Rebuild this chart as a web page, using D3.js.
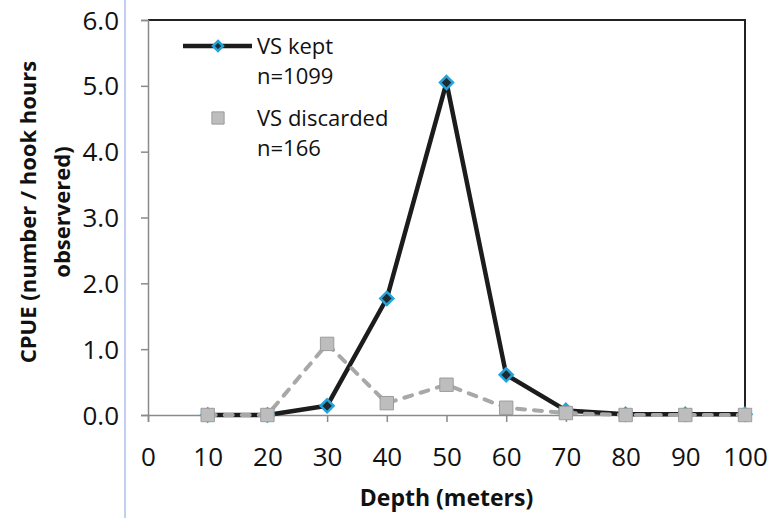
<!DOCTYPE html>
<html>
<head>
<meta charset="utf-8">
<script src="https://cdn.jsdelivr.net/npm/d3@7"></script>
<style>
  html, body { margin: 0; padding: 0; background: #fff; }
  svg { display: block; }
  text { font-family: "Open Sans", "DejaVu Sans", sans-serif; fill: #111; }
</style>
</head>
<body>
<svg id="chart" width="770" height="518"></svg>
<script>
// Catch per unit effort by depth
const depths = [10, 20, 30, 40, 50, 60, 70, 80, 90, 100];
const keptCpue = [0.0, 0.0, 0.14, 1.77, 5.05, 0.61, 0.07, 0.01, 0.01, 0.01];
const discardedCpue = [0.0, 0.0, 1.08, 0.18, 0.46, 0.11, 0.03, 0.0, 0.0, 0.0];
const xTicks = [0, 10, 20, 30, 40, 50, 60, 70, 80, 90, 100];
const yTicks = [0, 1, 2, 3, 4, 5, 6];
const seriesNames = ["VS kept", "VS discarded"];
const seriesCounts = ["n=1099", "n=166"];

const svg = d3.select("#chart");
const margin = { left: 148, top: 20, right: 25, bottom: 103 };
const W = 770, H = 518;
const iw = W - margin.left - margin.right;
const ih = H - margin.top - margin.bottom;

const x = d3.scaleLinear().domain([0, 100]).range([0, iw]);
const y = d3.scaleLinear().domain([0, 6]).range([ih, 0]);

// thin blue rule at the left edge of the page
svg.append("line")
  .attr("x1", 125).attr("x2", 125).attr("y1", 0).attr("y2", H)
  .attr("stroke", "#c3cff2").attr("stroke-width", 2);

const g = svg.append("g").attr("transform", `translate(${margin.left},${margin.top})`);

// frame: top and right edges
g.append("path")
  .attr("d", `M0,0H${iw}V${ih}`)
  .attr("fill", "none").attr("stroke", "#222").attr("stroke-width", 2);

// y axis
const yAxis = g.append("g")
  .call(d3.axisLeft(y).tickValues(yTicks).tickFormat(d3.format(".1f")).tickSize(7).tickPadding(22));
yAxis.select(".domain").attr("stroke", "#8a8a8a").attr("stroke-width", 1.5);
yAxis.selectAll(".tick line").attr("stroke", "#8a8a8a").attr("stroke-width", 1.5);
yAxis.selectAll("text").style("font-size", "26px").attr("fill", "#111")
  .style("font-family", '"Open Sans", sans-serif').attr("dy", "0.35em");

// x axis
const xAxis = g.append("g").attr("transform", `translate(0,${ih})`)
  .call(d3.axisBottom(x).tickValues(xTicks).tickSize(7).tickPadding(26));
xAxis.select(".domain").attr("stroke", "#8a8a8a").attr("stroke-width", 1.5);
xAxis.selectAll(".tick line").attr("stroke", "#8a8a8a").attr("stroke-width", 1.5);
xAxis.selectAll("text").style("font-size", "26px").attr("fill", "#111")
  .style("font-family", '"Open Sans", sans-serif');

// axis titles
svg.append("text")
  .attr("x", margin.left + x(50)).attr("y", 506)
  .attr("text-anchor", "middle")
  .style("font-size", "23px").style("font-weight", "bold")
  .text("Depth (meters)");

const yTitle = svg.append("text")
  .attr("transform", "translate(0,212) rotate(-90)")
  .attr("text-anchor", "middle")
  .style("font-size", "22px").style("font-weight", "bold");
yTitle.append("tspan").attr("x", 0).attr("y", 36).text("CPUE (number / hook hours");
yTitle.append("tspan").attr("x", 0).attr("y", 70).text("observered)");

// series
const keptData = depths.map((d, i) => ({ x: d, y: keptCpue[i] }));
const discData = depths.map((d, i) => ({ x: d, y: discardedCpue[i] }));
const line = d3.line().x(d => x(d.x)).y(d => y(d.y));

// square diamond (equal diagonals)
const diamond = r => `M0,${-r}L${r},0L0,${r}L${-r},0Z`;
const square = d3.symbol().type(d3.symbolSquare).size(180);

g.append("path").datum(keptData)
  .attr("d", line).attr("fill", "none")
  .attr("stroke", "#1c1c1c").attr("stroke-width", 4.5).attr("stroke-linejoin", "round");
g.selectAll(".kept").data(keptData).enter().append("path")
  .attr("class", "kept")
  .attr("transform", d => `translate(${x(d.x)},${y(d.y)})`)
  .attr("d", diamond(6.5))
  .attr("fill", "#1d2b33").attr("stroke", "#23a3da").attr("stroke-width", 2.5);

g.append("path").datum(discData)
  .attr("d", line).attr("fill", "none")
  .attr("stroke", "#a8a8a8").attr("stroke-width", 4)
  .attr("stroke-dasharray", "8,9").attr("stroke-linecap", "round");
g.selectAll(".disc").data(discData).enter().append("path")
  .attr("class", "disc")
  .attr("transform", d => `translate(${x(d.x)},${y(d.y)})`)
  .attr("d", square)
  .attr("fill", "#bdbdbd").attr("stroke", "#9c9c9c").attr("stroke-width", 1);

// legend
const lg = svg.append("g");
lg.append("line").attr("x1", 183).attr("x2", 252).attr("y1", 46).attr("y2", 46)
  .attr("stroke", "#1c1c1c").attr("stroke-width", 4.5);
lg.append("path").attr("transform", "translate(218,46)").attr("d", diamond(5))
  .attr("fill", "#1d2b33").attr("stroke", "#23a3da").attr("stroke-width", 2.5);
lg.append("path").attr("transform", "translate(218,118)")
  .attr("d", d3.symbol().type(d3.symbolSquare).size(150))
  .attr("fill", "#bdbdbd").attr("stroke", "#9c9c9c").attr("stroke-width", 1);

const legendRows = [
  { t: seriesNames[0], y: 54 }, { t: seriesCounts[0], y: 84 },
  { t: seriesNames[1], y: 126 }, { t: seriesCounts[1], y: 156 }
];
lg.selectAll(".lt").data(legendRows).enter().append("text")
  .attr("class", "lt")
  .attr("x", 257).attr("y", d => d.y)
  .style("font-size", "22px")
  .text(d => d.t);
</script>
</body>
</html>
